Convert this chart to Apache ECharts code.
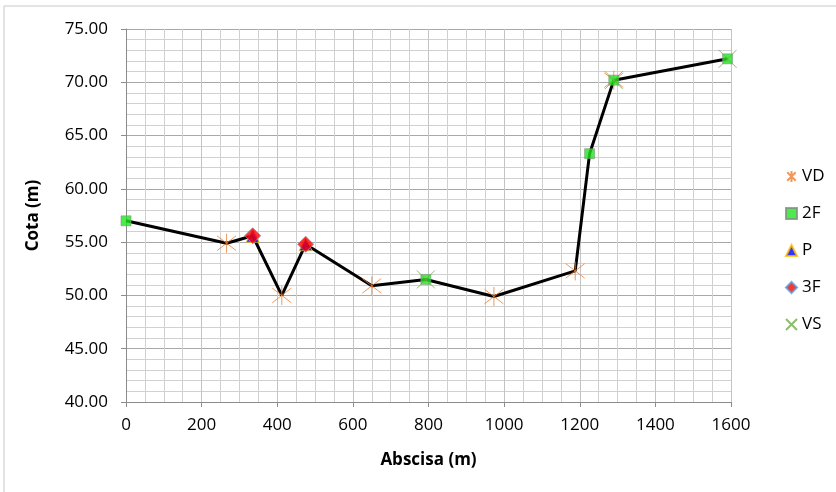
<!DOCTYPE html>
<html>
<head>
<meta charset="utf-8">
<script src="https://cdn.jsdelivr.net/npm/echarts@6/dist/echarts.min.js"></script>
<style>
  html, body { margin: 0; padding: 0; background: #fff; }
  #chart { width: 836px; height: 492px; }
</style>
</head>
<body>
<div id="chart"></div>
<script>
// perfil: abscisa (m) / cota (m)
var abscisa = [0, 266, 335, 412, 475, 650, 793, 973, 1188, 1226, 1290, 1591];
var cota = [57.0, 54.9, 55.6, 50.0, 54.8, 50.9, 51.5, 49.9, 52.3, 63.3, 70.2, 72.2];

// puntos por tipo
var vdX = [266, 412, 650, 973, 1188, 1290];
var vdY = [54.9, 50.0, 50.9, 49.9, 52.3, 70.2];
var f2X = [0, 793, 1226, 1290, 1591];
var f2Y = [57.0, 51.5, 63.3, 70.2, 72.2];
var pX = [335, 475];
var pY = [55.6, 54.8];
var f3X = [335, 475];
var f3Y = [55.6, 54.8];
var vsX = [793, 1290, 1591];
var vsY = [51.5, 70.2, 72.2];

function pares(xs, ys) {
  var out = [];
  for (var i = 0; i < xs.length; i++) out.push([xs[i], ys[i]]);
  return out;
}

var chart = echarts.init(document.getElementById('chart'));
var fuente = 'Open Sans';

var option = {
  animation: false,
  graphic: [{
    type: 'rect',
    shape: { x: 4, y: 6, width: 850, height: 520 },
    style: { fill: 'none', stroke: '#c8c8c8', lineWidth: 1 },
    silent: true
  }],
  grid: { left: 126, right: 105, top: 29, bottom: 90 },
  legend: {
    orient: 'vertical',
    left: 780,
    top: 163,
    itemWidth: 11,
    itemHeight: 11,
    itemGap: 20,
    textStyle: { fontFamily: fuente, fontSize: 17, color: '#000' },
    data: ['VD', '2F', 'P', '3F', 'VS']
  },
  xAxis: {
    type: 'value',
    min: 0,
    max: 1600,
    interval: 200,
    name: 'Abscisa (m)',
    nameLocation: 'middle',
    nameGap: 50,
    nameTextStyle: { fontFamily: fuente, fontSize: 17, fontWeight: 'bold', color: '#000' },
    axisLine: { show: true, lineStyle: { color: '#8c8c8c', width: 1 } },
    axisTick: { show: true, length: 5, lineStyle: { color: '#8c8c8c' } },
    axisLabel: {
      fontFamily: fuente, fontSize: 17, color: '#000', margin: 15,
      formatter: function (v) { return String(v); }
    },
    splitLine: { show: true, lineStyle: { color: '#c4c4c4', width: 1 } },
    minorTick: { show: false, splitNumber: 4 },
    minorSplitLine: { show: true, lineStyle: { color: '#d0d0d0', width: 1 } }
  },
  yAxis: {
    type: 'value',
    min: 40,
    max: 75,
    interval: 5,
    name: 'Cota (m)',
    nameLocation: 'middle',
    nameGap: 84,
    nameTextStyle: { fontFamily: fuente, fontSize: 17, fontWeight: 'bold', color: '#000' },
    axisLine: { show: true, lineStyle: { color: '#8c8c8c', width: 1 } },
    axisTick: { show: true, length: 5, lineStyle: { color: '#8c8c8c' } },
    axisLabel: {
      fontFamily: fuente, fontSize: 17, color: '#000', margin: 18,
      formatter: function (v) { return v.toFixed(2); }
    },
    splitLine: { show: true, lineStyle: { color: '#a8a8a8', width: 1 } },
    minorTick: { show: false, splitNumber: 5 },
    minorSplitLine: { show: true, lineStyle: { color: '#d0d0d0', width: 1 } }
  },
  series: [
    {
      name: 'perfil',
      type: 'line',
      data: pares(abscisa, cota),
      showSymbol: false,
      symbol: 'none',
      lineStyle: { color: '#000', width: 3 },
      z: 2
    },
    {
      name: 'VD',
      type: 'scatter',
      data: pares(vdX, vdY),
      symbol: 'path://M0,0L10,10M10,0L0,10M5,-1.5L5,11.5',
      symbolSize: 19,
      itemStyle: { color: '#ED7D31', borderColor: '#ED7D31', borderWidth: 1 },
      z: 3
    },
    {
      name: '2F',
      type: 'scatter',
      data: pares(f2X, f2Y),
      symbol: 'rect',
      symbolSize: 10,
      itemStyle: { color: '#1EE61E', borderColor: '#8a8a8a', borderWidth: 0.7 },
      z: 4
    },
    {
      name: 'P',
      type: 'scatter',
      data: pares(pX, pY),
      symbol: 'triangle',
      symbolSize: 13,
      itemStyle: { color: '#0000FF', borderColor: '#FFC000', borderWidth: 1 },
      z: 5
    },
    {
      name: '3F',
      type: 'scatter',
      data: pares(f3X, f3Y),
      symbol: 'diamond',
      symbolSize: 16,
      itemStyle: { color: '#FF0000', borderColor: '#5B9BD5', borderWidth: 1 },
      z: 6
    },
    {
      name: 'VS',
      type: 'scatter',
      data: pares(vsX, vsY),
      symbol: 'path://M0,0L10,10M10,0L0,10',
      symbolSize: 18,
      itemStyle: { color: '#70AD47', borderColor: '#70AD47', borderWidth: 1 },
      z: 7
    }
  ]
};

chart.setOption(option);
</script>
</body>
</html>
